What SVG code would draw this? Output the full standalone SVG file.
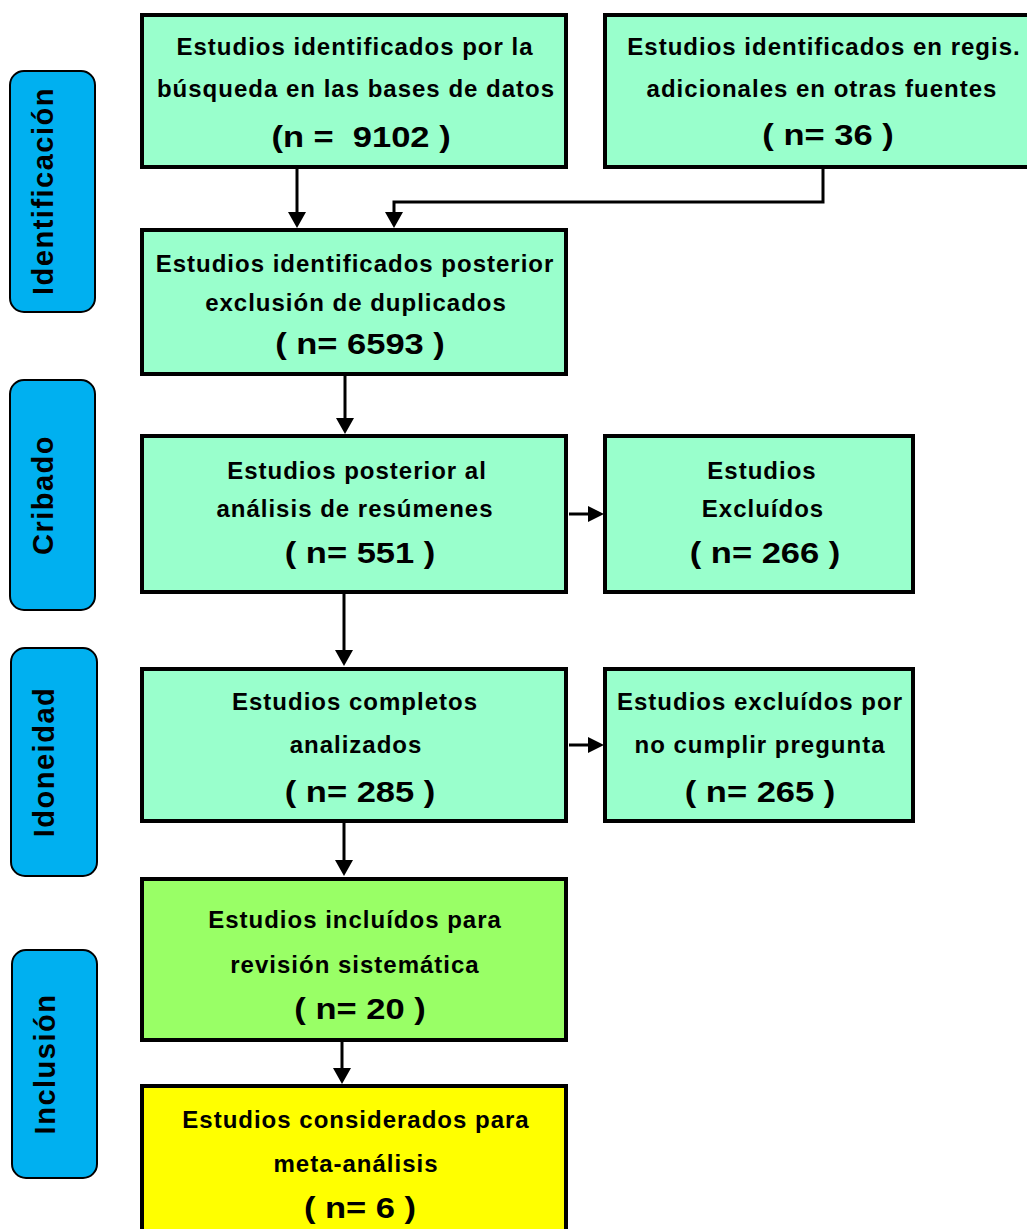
<svg xmlns="http://www.w3.org/2000/svg" width="1027" height="1229" viewBox="0 0 1027 1229">
<style>
.box{stroke:#000;stroke-width:4}
.mint{fill:#99ffcc}
.green{fill:#99ff66}
.yellow{fill:#ffff00}
.side{fill:#00b0f0;stroke:#000;stroke-width:2}
text{font-family:"Liberation Sans",Arial,sans-serif;font-weight:bold;fill:#000;text-anchor:middle}
.t{font-size:24px;letter-spacing:1px}
.n{font-size:30px}
.s{font-size:29px;letter-spacing:1.5px}
.c{fill:none;stroke:#000;stroke-width:3}
.h{fill:#000}
</style>
<rect width="1027" height="1229" fill="#fff"/>

<g id="side-identificacion">
<rect class="side" x="10" y="71" width="85" height="241" rx="14"/>
<text class="s" transform="translate(53,191) rotate(-90)">Identificación</text>
</g>
<g id="side-cribado">
<rect class="side" x="10" y="380" width="85" height="230" rx="14"/>
<text class="s" transform="translate(53,495) rotate(-90)">Cribado</text>
</g>
<g id="side-idoneidad">
<rect class="side" x="11" y="648" width="86" height="228" rx="14"/>
<text class="s" transform="translate(54,762) rotate(-90)">Idoneidad</text>
</g>
<g id="side-inclusion">
<rect class="side" x="12" y="950" width="85" height="228" rx="14"/>
<text class="s" transform="translate(55,1064) rotate(-90)">Inclusión</text>
</g>

<g id="connectors">
<path class="c" d="M297,168 V214"/>
<path class="h" d="M288,212 L306,212 L297,228 z"/>
<path class="c" d="M823,168 V202 H394 V214"/>
<path class="h" d="M385,212 L403,212 L394,228 z"/>
<path class="c" d="M345,375 V420"/>
<path class="h" d="M336,418 L354,418 L345,434 z"/>
<path class="c" d="M569,514 H590"/>
<path class="h" d="M588,506 L604,514 L588,522 z"/>
<path class="c" d="M344,593 V652"/>
<path class="h" d="M335,650 L353,650 L344,666 z"/>
<path class="c" d="M569,745 H590"/>
<path class="h" d="M588,737 L604,745 L588,753 z"/>
<path class="c" d="M344,822 V862"/>
<path class="h" d="M335,860 L353,860 L344,876 z"/>
<path class="c" d="M342,1041 V1070"/>
<path class="h" d="M333,1068 L351,1068 L342,1084 z"/>
</g>

<g id="n1">
<rect class="box mint" x="142" y="15" width="424" height="152"/>
<text class="t" x="355" y="55">Estudios identificados por la</text>
<text class="t" x="356" y="97">búsqueda en las bases de datos</text>
<text class="n" transform="translate(361,147) scale(1.15,1)" xml:space="preserve">(n =  9102 )</text>
</g>
<g id="n2">
<rect class="box mint" x="605" y="15" width="426" height="152"/>
<text class="t" x="824" y="55">Estudios identificados en regis.</text>
<text class="t" x="822" y="97">adicionales en otras fuentes</text>
<text class="n" transform="translate(828,145) scale(1.15,1)">( n= 36 )</text>
</g>
<g id="n3">
<rect class="box mint" x="142" y="230" width="424" height="144"/>
<text class="t" x="355" y="272">Estudios identificados posterior</text>
<text class="t" x="356" y="311">exclusión de duplicados</text>
<text class="n" transform="translate(360,354) scale(1.15,1)">( n= 6593 )</text>
</g>
<g id="n4">
<rect class="box mint" x="142" y="436" width="424" height="156"/>
<text class="t" x="357" y="479">Estudios posterior al</text>
<text class="t" x="355" y="517">análisis de resúmenes</text>
<text class="n" transform="translate(360,563) scale(1.15,1)">( n= 551 )</text>
</g>
<g id="n5">
<rect class="box mint" x="605" y="436" width="308" height="156"/>
<text class="t" x="762" y="479">Estudios</text>
<text class="t" x="763" y="517">Excluídos</text>
<text class="n" transform="translate(765,563) scale(1.15,1)">( n= 266 )</text>
</g>
<g id="n6">
<rect class="box mint" x="142" y="669" width="424" height="152"/>
<text class="t" x="355" y="710">Estudios completos</text>
<text class="t" x="356" y="753">analizados</text>
<text class="n" transform="translate(360,802) scale(1.15,1)">( n= 285 )</text>
</g>
<g id="n7">
<rect class="box mint" x="605" y="669" width="308" height="152"/>
<text class="t" x="760" y="710">Estudios excluídos por</text>
<text class="t" x="760" y="753">no cumplir pregunta</text>
<text class="n" transform="translate(760,802) scale(1.15,1)">( n= 265 )</text>
</g>
<g id="n8">
<rect class="box green" x="142" y="879" width="424" height="161"/>
<text class="t" x="355" y="928">Estudios incluídos para</text>
<text class="t" x="355" y="973">revisión sistemática</text>
<text class="n" transform="translate(360,1019) scale(1.15,1)">( n= 20 )</text>
</g>
<g id="n9">
<rect class="box yellow" x="142" y="1086" width="424" height="150"/>
<text class="t" x="356" y="1128">Estudios considerados para</text>
<text class="t" x="356" y="1172">meta-análisis</text>
<text class="n" transform="translate(360,1218) scale(1.15,1)">( n= 6 )</text>
</g>
</svg>
